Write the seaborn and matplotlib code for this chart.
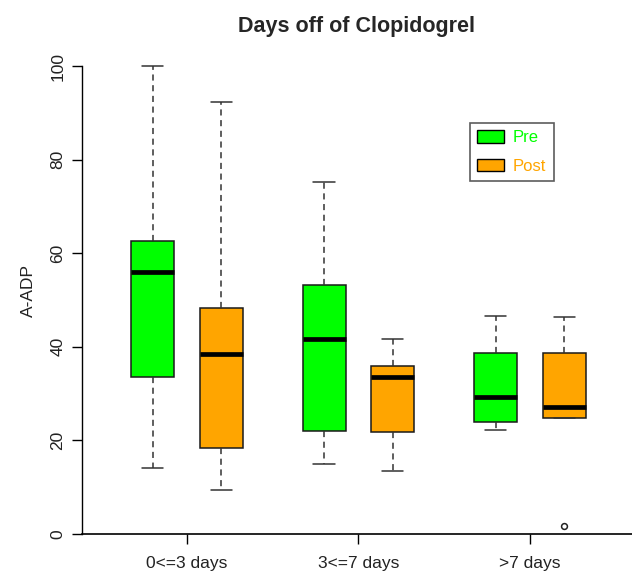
import matplotlib
matplotlib.use("Agg")
import matplotlib.pyplot as plt
import seaborn as sns
import pandas as pd
from matplotlib.patches import Patch

# ---- data (five-number summaries: min, Q1, median, Q3, max) ----
groups = ["0<=3 days", "3<=7 days", ">7 days"]
periods = ["Pre", "Post"]
pre_values = [
    [14.1, 33.5, 56.0, 62.6, 100.0],
    [15.0, 22.0, 41.7, 53.2, 75.2],
    [22.2, 23.9, 29.3, 38.7, 46.6],
]
post_values = [
    [9.4, 18.4, 38.5, 48.3, 92.3],
    [13.5, 21.8, 33.5, 35.9, 41.7],
    [1.7, 24.8, 27.1, 38.7, 46.4],
]
colors = {"Pre": "#00FF00", "Post": "#FFA500"}
yticks = [0, 20, 40, 60, 80, 100]

rows = []
for g, vals in zip(groups, pre_values):
    for v in vals:
        rows.append({"group": g, "period": "Pre", "value": v})
for g, vals in zip(groups, post_values):
    for v in vals:
        rows.append({"group": g, "period": "Post", "value": v})
df = pd.DataFrame(rows)

sns.set_style("white")
plt.rcParams["font.family"] = ["Liberation Sans", "DejaVu Sans"]

fig = plt.figure(figsize=(6.32, 5.73), dpi=100)
ax = fig.add_axes([82 / 632, 39 / 573, 550 / 632, 486.7 / 573])

sns.boxplot(
    data=df, x="group", y="value", hue="period", order=groups, hue_order=periods,
    palette=colors, gap=0.375, width=0.8, whis=1.5, saturation=1,
    linecolor="#1a1a1a", linewidth=1.1,
    medianprops=dict(color="black", linewidth=3.4),
    whiskerprops=dict(linestyle=(0, (4, 3)), color="#333333", linewidth=1.1),
    capprops=dict(color="#333333", linewidth=1.1),
    flierprops=dict(marker="o", markersize=4.2, markerfacecolor="white",
                    markeredgecolor="#222222", markeredgewidth=1.1),
    legend=False, ax=ax,
)

ax.set_xlim(-0.612, 2.595)
ax.set_ylim(0, 104)
ax.set_yticks(yticks)
ax.set_yticklabels([str(t) for t in yticks], rotation=90, va="center", fontsize=12.5,
                   color="#222222")
ax.tick_params(axis="y", length=7, width=1, color="black", pad=5, left=True)
ax.tick_params(axis="x", length=7, width=1, color="black", pad=9, bottom=True,
               labelsize=12.5, labelcolor="#222222")
ax.set_xlabel("")
ax.set_ylabel("A-ADP", fontsize=12.5, labelpad=10, color="#222222")

for s in ["top", "right"]:
    ax.spines[s].set_visible(False)
ax.spines["left"].set_bounds(0, 100)
ax.spines["left"].set_color("black")
ax.spines["bottom"].set_color("black")
ax.spines["left"].set_linewidth(1)
ax.spines["bottom"].set_linewidth(1.2)

ax.set_title("Days off of Clopidogrel", fontsize=15.5, fontweight="bold", pad=11)

handles = [Patch(facecolor=colors[p], edgecolor="black", linewidth=1) for p in periods]
leg = ax.legend(handles, periods, loc="upper left", bbox_to_anchor=(0.705, 0.845),
                borderaxespad=0, fontsize=12, frameon=True, fancybox=False,
                handlelength=1.6, handleheight=0.8, handletextpad=0.55,
                labelspacing=0.8, borderpad=0.45)
leg.get_frame().set_edgecolor("#333333")
leg.get_frame().set_linewidth(1.2)
for t, p in zip(leg.get_texts(), periods):
    t.set_color(colors[p])

fig.savefig("out.png", dpi=100, facecolor="white")
